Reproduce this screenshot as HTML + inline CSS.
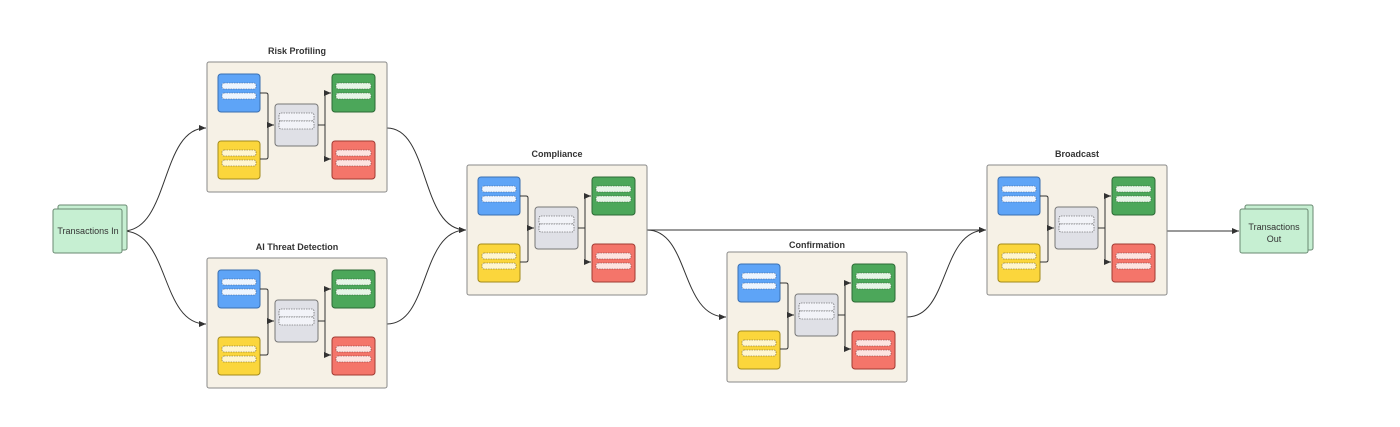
<!DOCTYPE html>
<html><head><meta charset="utf-8"><style>
html,body{margin:0;padding:0;background:#fff;}
svg{display:block;font-family:"Liberation Sans",sans-serif;}
</style></head><body>
<svg width="1400" height="427" viewBox="0 0 1400 427" xmlns="http://www.w3.org/2000/svg">
<defs>
<marker id="a" markerWidth="8" markerHeight="8" refX="7" refY="4" orient="auto" markerUnits="userSpaceOnUse">
<path d="M0,1 L7,4 L0,7 z" fill="#333"/></marker>
<g id="m">
<rect x="0" y="0" width="180" height="130" rx="2" fill="#f6f1e6" stroke="#8a8a8a" stroke-width="1"/>
<rect x="11" y="12" width="42" height="38" rx="3" fill="#5ea4f7" stroke="#3a6fb0"/>
<rect x="15" y="21" width="34" height="6" rx="2" fill="#eef5ff" stroke="#3a5a8a" stroke-width="0.6" stroke-dasharray="1.5,1"/>
<rect x="15" y="31" width="34" height="6" rx="2" fill="#eef5ff" stroke="#3a5a8a" stroke-width="0.6" stroke-dasharray="1.5,1"/>
<rect x="11" y="79" width="42" height="38" rx="3" fill="#fbd63c" stroke="#a38a1c"/>
<rect x="15" y="88" width="34" height="6" rx="2" fill="#fff6cf" stroke="#6b5b20" stroke-width="0.6" stroke-dasharray="1.5,1"/>
<rect x="15" y="98" width="34" height="6" rx="2" fill="#fff6cf" stroke="#6b5b20" stroke-width="0.6" stroke-dasharray="1.5,1"/>
<rect x="68" y="42" width="43" height="42" rx="3" fill="#dfe0e6" stroke="#777"/>
<rect x="72" y="51" width="35" height="8" rx="2" fill="#f2f3f8" stroke="#444" stroke-width="0.6" stroke-dasharray="1.5,1"/>
<rect x="72" y="59" width="35" height="8" rx="2" fill="#f2f3f8" stroke="#444" stroke-width="0.6" stroke-dasharray="1.5,1"/>
<rect x="125" y="12" width="43" height="38" rx="3" fill="#4ca75a" stroke="#2d6a36"/>
<rect x="129" y="21" width="35" height="6" rx="2" fill="#e6f5e6" stroke="#2d5a30" stroke-width="0.6" stroke-dasharray="1.5,1"/>
<rect x="129" y="31" width="35" height="6" rx="2" fill="#e6f5e6" stroke="#2d5a30" stroke-width="0.6" stroke-dasharray="1.5,1"/>
<rect x="125" y="79" width="43" height="38" rx="3" fill="#f4756a" stroke="#a03a33"/>
<rect x="129" y="88" width="35" height="6" rx="2" fill="#fde3e0" stroke="#7a3030" stroke-width="0.6" stroke-dasharray="1.5,1"/>
<rect x="129" y="98" width="35" height="6" rx="2" fill="#fde3e0" stroke="#7a3030" stroke-width="0.6" stroke-dasharray="1.5,1"/>
<path d="M53,31 H59 Q61,31 61,33 V95 Q61,97 59,97 H53" fill="none" stroke="#333" stroke-width="1"/>
<path d="M61,63 H67" fill="none" stroke="#333" stroke-width="1" marker-end="url(#a)"/>
<path d="M111,63 H118" fill="none" stroke="#333" stroke-width="1"/>
<path d="M124,31 H120 Q118,31 118,33 V95 Q118,97 120,97 H124" fill="none" stroke="#333" stroke-width="1" marker-end="url(#a)"/>
<path d="M118,33 Q118,31 120,31 H124" fill="none" stroke="#333" stroke-width="1" marker-end="url(#a)"/>
</g>
</defs>

<g fill="none" stroke="#333" stroke-width="1">
<path d="M123,231 C170,231 160,128 206,128" marker-end="url(#a)"/>
<path d="M123,231 C170,231 160,324 206,324" marker-end="url(#a)"/>
<path d="M387,128 C430,128 420,230 466,230" marker-end="url(#a)"/>
<path d="M387,324 C430,324 420,230 466,230" marker-end="url(#a)"/>
<path d="M647,230 H986" marker-end="url(#a)"/>
<path d="M647,230 C690,230 680,317 726,317" marker-end="url(#a)"/>
<path d="M907,317 C950,317 940,230 986,230" marker-end="url(#a)"/>
<path d="M1167,231 H1239" marker-end="url(#a)"/>
</g>

<use href="#m" x="207" y="62"/>
<use href="#m" x="207" y="258"/>
<use href="#m" x="467" y="165"/>
<use href="#m" x="727" y="252"/>
<use href="#m" x="987" y="165"/>

<g font-size="9" font-weight="bold" fill="#333" text-anchor="middle">
<text x="297" y="54">Risk Profiling</text>
<text x="297" y="250">AI Threat Detection</text>
<text x="557" y="157">Compliance</text>
<text x="817" y="248">Confirmation</text>
<text x="1077" y="157">Broadcast</text>
</g>

<rect x="58" y="205" width="69" height="45" rx="2" fill="#c6efd2" stroke="#6a8a72"/>
<rect x="53" y="209" width="69" height="44" rx="2" fill="#c6efd2" stroke="#6a8a72"/>
<text x="88" y="234" font-size="9" fill="#333" text-anchor="middle">Transactions In</text>
<rect x="1245" y="205" width="68" height="45" rx="2" fill="#c6efd2" stroke="#6a8a72"/>
<rect x="1240" y="209" width="68" height="44" rx="2" fill="#c6efd2" stroke="#6a8a72"/>
<text x="1274" y="230" font-size="9" fill="#333" text-anchor="middle">Transactions</text>
<text x="1274" y="242" font-size="9" fill="#333" text-anchor="middle">Out</text>
</svg>
</body></html>
